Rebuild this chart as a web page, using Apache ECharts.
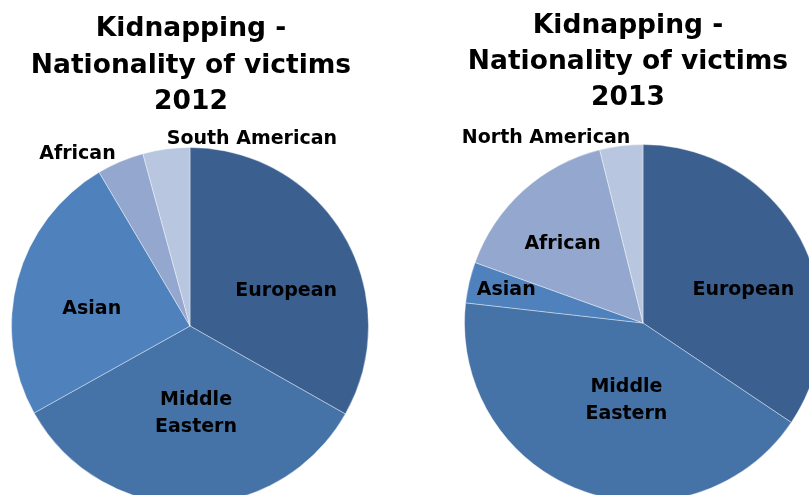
<!DOCTYPE html>
<html>
<head>
<meta charset="utf-8">
<script src="https://cdn.jsdelivr.net/npm/echarts@6/dist/echarts.min.js"></script>
<style>
html,body{margin:0;padding:0;background:#fff;}
#chart{width:809px;height:495px;}
</style>
</head>
<body>
<div id="chart"></div>
<script>
// ---- data ----
const titles = ['Kidnapping -\nNationality of victims\n2012', 'Kidnapping -\nNationality of victims\n2013'];
const categories2012 = ['European', 'Middle\nEastern', 'Asian', 'African', 'South American'];
const values2012 = [33.2, 33.7, 24.6, 4.25, 4.25];
const categories2013 = ['European', 'Middle\nEastern', 'Asian', 'African', 'North American'];
const values2013 = [34.4, 42.4, 3.7, 15.6, 3.9];

// ---- styling ----
const colors2012 = ['#3B5F8F', '#4572A7', '#4F81BD', '#94A8CF', '#B9C6E0'];
const colors2013 = ['#3B5F8F', '#4572A7', '#4F81BD', '#94A8CF', '#B9C6E0'];
const offsets2012 = [[16.5, 11.3], [6.3, -4.5], [-9.2, 7], [-76.6, -87.3], [74.2, -95.8]];
const offsets2013 = [[18.9, 10.5], [15.2, -8.8], [-46.9, -12], [-18.5, -10.4], [-85.7, -93.7]];
const FONT = 'DejaVu Sans';

function buildData(cats, vals, cols, offs) {
  return cats.map((c, i) => ({
    name: c,
    value: vals[i],
    itemStyle: { color: cols[i] },
    label: { offset: offs[i] }
  }));
}

function pieSeries(center, data) {
  return {
    type: 'pie',
    center: center,
    radius: 178.5,
    startAngle: 90,
    clockwise: true,
    silent: true,
    animation: false,
    avoidLabelOverlap: false,
    itemStyle: { borderColor: 'rgba(255,255,255,0.55)', borderWidth: 0.7 },
    label: {
      show: true,
      position: 'inside',
      formatter: '{b}',
      color: '#000',
      fontFamily: FONT,
      fontWeight: 'bold',
      fontSize: 19,
      lineHeight: 27,
      align: 'center'
    },
    labelLine: { show: false },
    emphasis: { disabled: true },
    data: data
  };
}

const chart = echarts.init(document.getElementById('chart'), null, { renderer: 'canvas' });
const titleStyle = { fontFamily: FONT, fontWeight: 'bold', fontSize: 26.5, color: '#000', lineHeight: 36.5, align: 'center' };
chart.setOption({
  backgroundColor: '#fff',
  animation: false,
  title: [
    { text: titles[0], left: 191, top: 11, textAlign: 'center', padding: 0, textStyle: titleStyle },
    { text: titles[1], left: 628, top: 8, textAlign: 'center', padding: 0, textStyle: Object.assign({}, titleStyle, { lineHeight: 36 }) }
  ],
  series: [
    pieSeries([190, 326], buildData(categories2012, values2012, colors2012, offsets2012)),
    pieSeries([643, 323], buildData(categories2013, values2013, colors2013, offsets2013))
  ]
});
</script>
</body>
</html>
